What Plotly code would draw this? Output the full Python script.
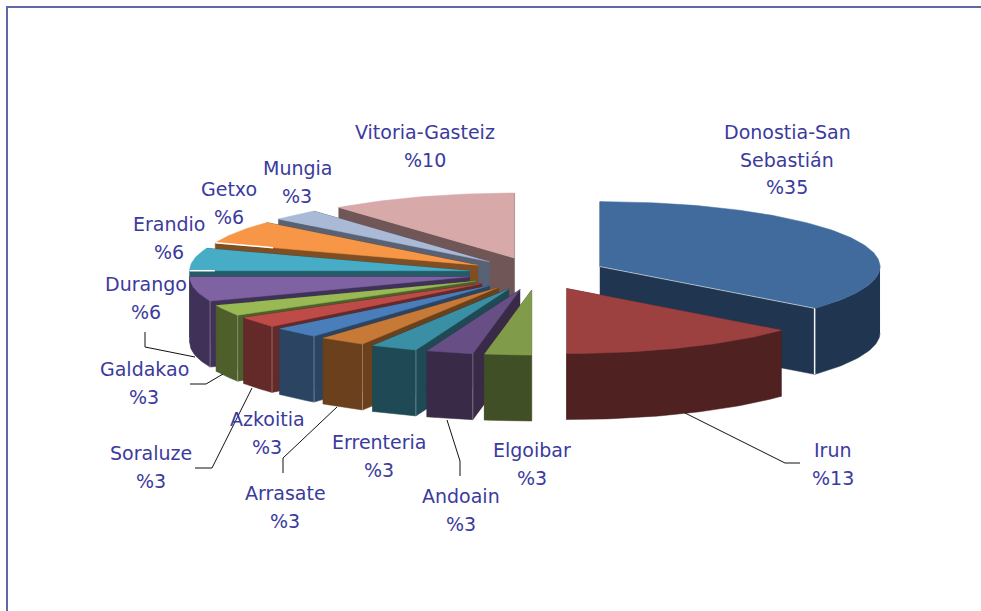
import math
import plotly.graph_objects as go

# ---- data ----
names = ["Donostia-San<br>Sebastián", "Irun", "Elgoibar", "Andoain", "Errenteria", "Arrasate",
         "Azkoitia", "Soraluze", "Galdakao", "Durango", "Erandio", "Getxo", "Mungia", "Vitoria-Gasteiz"]
printed = ["%35", "%13", "%3", "%3", "%3", "%3", "%3", "%3", "%3", "%6", "%6", "%6", "%3", "%10"]
# slice shares as drawn
shares = [36.1, 13.9, 2.7, 2.7, 2.7, 2.7, 2.7, 2.7, 2.7, 6.1, 5.6, 5.8, 2.8, 10.8]
top_colors = ["#406b9c", "#9c4140", "#809c4a", "#674f86", "#3a8fa5", "#c77a37", "#4a7ebb",
              "#be4b48", "#98b954", "#7f62a2", "#47acc5", "#f79646", "#a9b9d6", "#d7a9a8"]
wall_colors = ["#203650", "#4f2120", "#414f26", "#392a47", "#1f4a55", "#6b401c", "#2a4462",
               "#632a29", "#4f5f2c", "#3f3157", "#255a66", "#7f4e22", "#586274", "#705656"]

# ---- layout ----
W, H = 981, 611
CX, CY, EX, EY = 537.5, 273.6, 69, 16.5
RX, RY, DEPTH = 280, 65, 66
TEXT = "#3b3b9e"
FONT = "DejaVu Sans"
FS = 19
label_pos = [(787, 132), (833, 450), (532, 450), (461, 496), (379, 442), (285, 493), (267, 419),
             (151, 453), (144, 369), (146, 284), (169, 224), (229, 189), (297, 168), (425, 132)]
LINE = 27.5
leaders = [
    [(685, 413), (785, 463), (800, 463)],
    [(460, 476), (460, 461), (447, 420)],
    [(283, 473), (283, 458), (337, 407)],
    [(195, 468), (212, 468), (252, 388)],
    [(190, 384), (206, 384), (223, 374)],
    [(145, 332), (145, 347), (195, 357)],
]
# outer part of a slice's first radial edge that carries a white highlight
edge_glint = {"Erandio": 0.91, "Getxo": 0.78}

fig = go.Figure()


def poly(pts, color):
    fig.add_trace(go.Scatter(x=[p[0] for p in pts], y=[p[1] for p in pts], mode="lines", fill="toself",
                             fillcolor=color, line=dict(width=0.5, color=color), hoverinfo="skip",
                             showlegend=False))


def line(pts, color, width=1):
    fig.add_trace(go.Scatter(x=[p[0] for p in pts], y=[p[1] for p in pts], mode="lines",
                             line=dict(width=width, color=color), hoverinfo="skip", showlegend=False))


total = sum(shares)
slices = []
acc = 0
for i, s in enumerate(shares):
    a0 = acc / total * 2 * math.pi
    acc += s
    a1 = acc / total * 2 * math.pi
    slices.append((i, a0, a1))

slices.sort(key=lambda t: -math.cos((t[1] + t[2]) / 2))

for i, a0, a1 in slices:
    mid = (a0 + a1) / 2
    ax = CX + EX * math.sin(mid)
    ay = CY - EY * math.cos(mid)

    def rim(t):
        return (ax + RX * math.sin(t), ay - RY * math.cos(t))

    def down(p):
        return (p[0], p[1] + DEPTH)

    n = max(4, int((a1 - a0) / 0.02))
    arc = [rim(a0 + (a1 - a0) * k / n) for k in range(n + 1)]
    # radial walls
    poly([(ax, ay), arc[0], down(arc[0]), (ax, ay + DEPTH)], wall_colors[i])
    poly([(ax, ay), arc[-1], down(arc[-1]), (ax, ay + DEPTH)], wall_colors[i])
    # outer wall, only the part that faces the viewer
    lo, hi = max(a0, math.pi / 2), min(a1, 3 * math.pi / 2)
    if lo < hi:
        m = max(4, int((hi - lo) / 0.02))
        front = [rim(lo + (hi - lo) * k / m) for k in range(m + 1)]
        poly(front + [down(p) for p in reversed(front)], wall_colors[i])
    # top face
    poly([(ax, ay)] + arc, top_colors[i])
    # highlights
    if i == 0:
        line([(ax, ay), arc[-1]], "rgba(255,255,255,0.55)", 1)
        line([arc[-1], down(arc[-1])], "rgba(255,255,255,0.95)", 1.5)
    elif math.pi + 0.1 < a0 < 1.45 * math.pi:
        line([arc[0], down(arc[0])], "rgba(255,255,255,0.3)", 1)
    f = edge_glint.get(names[i])
    if f:
        line([(ax + f * (arc[0][0] - ax), ay + f * (arc[0][1] - ay)), arc[0]], "white", 1.5)

for leader in leaders:
    line(leader, "#111111", 1)

# chart frame
line([(7, H + 5), (7, 7), (W + 5, 7)], "#6366aa", 2)

annotations = []
for name, pct, (x, y) in zip(names, printed, label_pos):
    for k, txt in enumerate(name.split("<br>") + [pct]):
        annotations.append(dict(x=x, y=y + k * LINE, text=txt, showarrow=False, xanchor="center",
                                yanchor="middle", font=dict(family=FONT, size=FS, color=TEXT)))

fig.update_layout(
    width=W, height=H, margin=dict(l=0, r=0, t=0, b=0), paper_bgcolor="white", plot_bgcolor="white",
    showlegend=False, annotations=annotations,
    xaxis=dict(range=[0, W], visible=False, fixedrange=True),
    yaxis=dict(range=[H, 0], visible=False, fixedrange=True),
)
fig.write_html("out.html", config={"displayModeBar": False},
               post_script="document.body.style.margin='0';document.body.style.overflow='hidden';")
